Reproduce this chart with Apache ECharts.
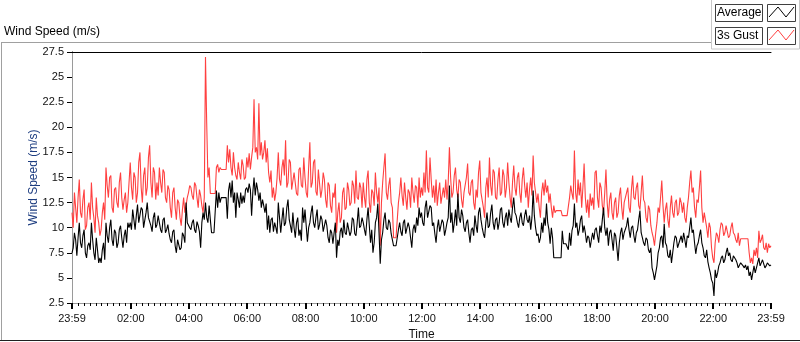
<!DOCTYPE html>
<html>
<head>
<meta charset="utf-8">
<script src="https://cdn.jsdelivr.net/npm/echarts@6/dist/echarts.min.js"></script>
<style>
  html, body { margin: 0; padding: 0; background: #ffffff; }
  #div_chart { width: 800px; height: 342px; }
</style>
</head>
<body>
<div id="div_chart"></div>
<script>
"use strict";

// samples every 2.5 minutes, starting 23:59 of the day before
const sample_step_min = 2.5;

// average wind speed (m/s), one row per hour (24 samples)
const avg_speed = [
  7.5, 8.0, 9.5, 8.8, 7.2, 9.0, 10.5, 8.5, 8.0, 9.2, 9.8, 7.5, 7.0, 8.2, 8.5, 7.8, 10.5, 8.8, 7.5, 6.8, 9.0, 7.8, 6.5, 7.0,
  6.5, 7.8, 8.5, 6.8, 10.5, 9.2, 8.5, 10.0, 10.8, 8.8, 8.2, 9.8, 9.5, 8.0, 8.5, 9.8, 10.2, 9.0, 8.0, 9.2, 9.8, 8.5, 10.5, 10.0,
  10.5, 9.8, 11.8, 10.8, 9.8, 11.2, 12.3, 10.5, 10.5, 12.0, 11.8, 10.0, 10.0, 11.5, 12.5, 11.0, 11.0, 10.2, 9.6, 11.0, 11.5, 10.0, 10.3, 11.2,
  10.5, 9.8, 9.5, 10.8, 11.0, 9.5, 9.8, 10.3, 9.4, 8.8, 8.5, 9.6, 9.8, 8.2, 7.5, 8.8, 8.8, 7.8, 8.0, 9.5, 9.2, 8.5, 12.5, 10.5,
  10.5, 10.0, 9.8, 10.5, 10.8, 9.8, 9.5, 10.6, 10.2, 9.6, 8.0, 10.5, 11.5, 10.8, 12.5, 11.0, 10.5, 12.2, 10.8, 9.5, 9.5, 9.5, 9.5, 13.7,
  12.0, 13.5, 12.5, 13.0, 13.0, 13.0, 13.0, 13.0, 10.9, 13.7, 14.5, 13.0, 14.7, 12.5, 13.5, 11.0, 13.5, 12.8, 12.0, 13.5, 12.4, 13.2, 12.5, 13.8,
  14.0, 13.5, 14.4, 13.8, 11.2, 13.5, 15.0, 13.2, 14.5, 13.8, 12.7, 13.5, 12.0, 12.8, 12.2, 11.5, 12.4, 9.8, 11.2, 9.5, 10.8, 11.0, 9.6, 10.5,
  10.0, 9.4, 12.5, 11.0, 9.5, 10.8, 12.0, 10.2, 10.5, 12.0, 12.8, 10.8, 10.2, 9.5, 11.5, 10.0, 9.0, 10.5, 11.0, 9.2, 9.8, 8.7, 12.0, 10.5,
  11.8, 10.2, 8.6, 10.0, 10.5, 11.5, 12.2, 10.5, 10.0, 11.0, 11.8, 9.8, 10.3, 11.2, 10.8, 9.6, 9.5, 10.8, 10.2, 9.0, 8.5, 9.8, 9.5, 8.4,
  9.5, 10.5, 7.0, 8.8, 8.2, 9.6, 10.0, 9.0, 10.8, 9.5, 9.3, 10.5, 10.5, 9.2, 9.6, 11.0, 10.8, 9.4, 9.2, 10.5, 12.0, 10.0, 10.2, 11.0,
  10.5, 9.8, 9.2, 10.8, 12.0, 10.2, 8.5, 9.8, 7.5, 8.5, 10.5, 11.0, 12.4, 9.5, 6.4, 8.8, 9.5, 10.8, 11.5, 10.0, 9.8, 10.8, 10.5, 9.4,
  9.5, 8.2, 8.2, 8.2, 8.2, 9.8, 10.5, 9.6, 9.2, 10.5, 10.8, 9.4, 9.5, 10.5, 10.0, 9.0, 8.0, 9.8, 10.3, 9.5, 11.0, 10.2, 12.0, 11.0,
  11.5, 10.5, 10.2, 12.0, 12.7, 11.0, 11.0, 12.2, 12.0, 10.2, 10.5, 9.4, 8.5, 10.0, 10.8, 9.6, 9.5, 10.8, 10.5, 9.2, 9.8, 10.5, 11.0, 14.2,
  10.5, 11.5, 9.5, 10.5, 11.8, 10.2, 13.4, 11.0, 10.5, 11.8, 11.2, 10.0, 9.6, 10.5, 10.8, 9.5, 8.5, 9.8, 10.0, 9.2, 11.2, 10.2, 9.5, 11.5,
  12.0, 10.8, 10.0, 9.4, 9.0, 10.5, 11.5, 10.0, 10.2, 11.5, 12.3, 10.5, 9.8, 10.8, 11.0, 9.8, 10.5, 11.8, 12.0, 10.5, 10.0, 11.0, 11.5, 10.2,
  11.8, 11.0, 10.5, 12.0, 13.0, 11.5, 11.2, 10.5, 10.0, 11.0, 11.5, 10.5, 10.2, 11.2, 11.8, 10.8, 10.5, 11.2, 9.8, 11.0, 13.7, 11.2, 10.0, 9.2,
  9.4, 8.5, 9.0, 10.5, 9.5, 11.0, 10.2, 12.4, 10.5, 9.8, 8.4, 10.0, 9.0, 7.0, 7.0, 7.0, 7.0, 7.0, 7.0, 7.0, 9.7, 8.4, 8.4, 8.4,
  8.4, 7.8, 9.5, 8.2, 9.7, 10.2, 12.4, 10.0, 10.5, 9.2, 9.8, 10.8, 11.2, 9.5, 10.2, 9.5, 8.5, 9.2, 9.0, 8.0, 8.8, 9.5, 8.8, 9.8,
  10.0, 9.2, 8.5, 10.2, 9.5, 10.8, 12.0, 10.0, 9.2, 10.0, 8.2, 9.5, 9.8, 8.8, 7.7, 9.5, 9.2, 8.0, 6.7, 8.5, 9.5, 10.0, 8.8, 9.5,
  9.5, 10.2, 11.0, 9.8, 9.0, 10.0, 10.2, 9.2, 8.5, 9.5, 9.8, 10.8, 11.7, 9.5, 9.0, 8.5, 8.2, 9.0, 8.8, 7.8, 7.5, 8.0, 6.0, 5.5,
  4.8, 5.5, 6.2, 7.5, 8.0, 9.0, 9.2, 8.0, 10.4, 8.5, 8.2, 7.2, 7.0, 7.8, 6.5, 7.5, 8.5, 9.2, 9.0, 8.0, 8.0, 8.8, 9.2, 8.5,
  9.5, 8.8, 8.0, 9.2, 9.0, 10.0, 11.0, 9.5, 9.8, 8.5, 7.4, 8.2, 8.5, 9.2, 9.8, 8.5, 8.0, 7.2, 7.0, 7.8, 6.6, 6.0, 5.5, 4.8,
  4.5, 3.2, 5.8, 5.0, 5.5, 6.2, 6.5, 7.0, 7.2, 6.5, 6.8, 7.5, 8.0, 7.2, 7.5, 6.8, 6.6, 7.2, 7.2, 6.8, 6.5, 6.0, 6.0, 6.5,
  6.4, 6.2, 6.0, 6.3, 5.8, 6.2, 5.2, 5.6, 4.8, 5.5, 6.2, 5.5, 5.5, 6.5, 7.0, 6.2, 6.5, 6.8, 6.8, 6.0, 6.2, 6.5, 6.4, 6.2,
  6.3
];

// 3 second gust (m/s), one row per hour (24 samples)
const gust_speed = [
  11.5, 10.0, 13.5, 12.0, 10.5, 13.0, 14.8, 11.5, 11.0, 12.8, 13.8, 9.8, 10.2, 12.0, 12.5, 10.8, 14.5, 12.0, 11.0, 9.5, 13.0, 11.2, 10.5, 9.2,
  9.8, 11.5, 12.5, 10.8, 16.0, 14.2, 13.0, 15.0, 15.2, 12.0, 11.5, 13.8, 14.0, 12.5, 12.0, 14.5, 15.5, 13.0, 11.8, 12.8, 13.5, 11.5, 12.5, 14.5,
  16.5, 14.0, 12.8, 15.5, 15.0, 12.5, 13.5, 16.5, 17.5, 14.0, 12.5, 15.2, 16.0, 13.2, 14.0, 17.0, 18.2, 14.5, 13.0, 16.0, 15.5, 12.8, 14.5, 13.2,
  16.0, 14.5, 13.5, 15.8, 15.5, 13.0, 12.5, 14.2, 13.8, 12.0, 11.0, 13.5, 14.0, 12.0, 10.8, 12.8, 12.5, 11.0, 10.2, 11.8, 13.0, 11.5, 11.5, 13.0,
  13.5, 14.2, 14.0, 13.2, 12.8, 14.5, 14.2, 13.0, 12.0, 13.8, 13.2, 12.2, 11.5, 13.0, 27.0, 20.4, 15.0, 16.0, 13.4, 13.4, 13.4, 13.4, 13.4, 16.0,
  16.3, 15.5, 16.0, 15.8, 15.8, 15.8, 15.8, 15.8, 18.2, 16.5, 17.8, 16.0, 15.2, 17.5, 16.0, 15.2, 14.8, 16.5, 15.5, 14.8, 16.8, 16.2, 14.8, 15.0,
  17.0, 16.0, 17.4, 15.8, 17.0, 18.0, 22.8, 17.5, 18.0, 16.8, 22.4, 17.2, 18.5, 16.8, 17.5, 18.7, 16.5, 17.9, 15.5, 14.5, 15.7, 13.0, 14.0, 12.7,
  13.5, 15.0, 17.5, 14.8, 14.2, 16.0, 16.8, 15.2, 18.7, 14.0, 14.5, 16.8, 16.5, 13.8, 13.8, 15.5, 15.5, 13.4, 13.2, 15.8, 16.0, 14.2, 14.0, 17.0,
  15.0, 13.5, 13.0, 16.0, 18.5, 14.0, 14.5, 16.5, 16.8, 13.6, 13.2, 15.8, 15.8, 13.0, 13.8, 15.5, 14.8, 12.8, 12.0, 14.5, 14.2, 12.2, 11.5, 13.5,
  13.0, 14.4, 9.5, 11.5, 12.5, 10.5, 11.0, 13.5, 14.0, 11.8, 12.0, 14.5, 13.8, 12.2, 12.5, 14.7, 14.2, 12.4, 15.7, 13.0, 12.8, 14.5, 14.0, 12.0,
  14.5, 13.0, 12.0, 14.8, 15.7, 12.5, 11.5, 13.8, 13.5, 12.2, 15.5, 13.5, 12.5, 14.0, 8.2, 12.5, 14.5, 16.0, 17.4, 13.5, 12.8, 14.2, 15.0, 12.5,
  12.0, 9.0, 9.0, 9.0, 9.0, 12.5, 13.5, 15.0, 13.2, 12.2, 14.5, 13.0, 11.8, 13.8, 13.5, 12.0, 15.0, 13.5, 12.5, 14.2, 14.0, 12.0, 15.0, 13.0,
  14.0, 13.2, 15.5, 13.5, 17.7, 14.0, 13.5, 17.0, 14.8, 13.0, 14.2, 12.5, 14.8, 12.2, 13.5, 14.5, 12.4, 12.5, 14.0, 13.0, 14.8, 12.8, 14.5, 18.0,
  15.0, 13.0, 13.5, 15.2, 16.0, 13.8, 13.0, 14.8, 14.5, 12.8, 12.0, 13.5, 13.5, 15.0, 16.4, 13.5, 13.2, 14.5, 14.8, 12.5, 11.8, 13.8, 13.0, 15.5,
  16.7, 13.5, 13.5, 12.0, 11.0, 14.0, 15.0, 13.0, 17.0, 14.2, 13.2, 15.8, 15.5, 13.0, 12.8, 14.8, 16.0, 13.2, 13.5, 15.8, 15.2, 13.0, 14.0, 16.5,
  14.5, 13.0, 12.0, 14.5, 16.2, 14.0, 13.2, 15.0, 15.5, 13.5, 12.5, 14.8, 16.0, 14.2, 13.0, 14.5, 12.0, 13.8, 15.0, 13.2, 17.2, 14.5, 13.5, 12.5,
  13.4, 12.0, 11.0, 13.5, 14.5, 13.2, 14.8, 13.5, 14.2, 12.5, 13.4, 12.0, 11.0, 12.2, 11.5, 11.7, 11.7, 11.7, 11.7, 11.7, 11.2, 11.2, 11.2, 11.2,
  11.2, 11.2, 13.0, 14.2, 13.4, 12.8, 17.7, 13.5, 12.5, 14.8, 13.2, 14.5, 12.0, 14.0, 16.4, 13.0, 11.5, 12.8, 11.0, 13.4, 12.2, 13.0, 11.8, 15.5,
  15.7, 13.0, 12.0, 14.5, 14.0, 12.2, 11.5, 13.5, 15.8, 12.5, 11.0, 12.8, 13.5, 11.5, 10.8, 12.5, 13.0, 11.0, 11.5, 13.2, 14.0, 12.0, 10.8, 12.5,
  12.5, 13.5, 14.0, 12.0, 11.5, 13.8, 15.2, 13.0, 12.8, 14.0, 14.5, 12.2, 11.8, 13.5, 15.2, 12.8, 12.5, 11.0, 10.5, 12.2, 11.8, 10.2, 9.5, 9.0,
  8.2, 9.5, 10.5, 12.0, 11.5, 13.0, 14.7, 12.2, 10.5, 11.8, 12.5, 10.8, 10.0, 12.0, 13.2, 11.5, 11.0, 12.5, 12.8, 11.2, 11.5, 13.0, 12.5, 11.5,
  12.5, 11.0, 10.5, 12.0, 13.0, 14.5, 15.7, 13.5, 14.0, 12.0, 11.0, 12.8, 12.5, 14.0, 15.7, 12.0, 10.5, 11.5, 11.5, 10.0, 9.0, 10.5, 10.0, 8.0,
  7.0, 6.5, 8.5, 9.5, 9.2, 8.5, 9.8, 10.5, 10.3, 9.2, 9.5, 10.2, 10.2, 9.0, 9.2, 10.0, 10.5, 9.5, 9.3, 8.8, 8.5, 9.5, 8.2, 8.9,
  8.9, 8.9, 8.9, 8.9, 8.9, 8.9, 7.5, 6.5, 7.0, 6.4, 7.8, 7.2, 8.0, 7.0, 9.7, 8.5, 8.8, 9.3, 8.0, 7.8, 8.5, 7.5, 8.4, 8.0,
  8.2
];

// x axis: minutes after 23:59 of the previous day
const x_label_values = [0, 121, 241, 361, 481, 601, 721, 841, 961, 1081, 1201, 1321, 1440];
const x_label_texts = ["23:59", "02:00", "04:00", "06:00", "08:00", "10:00", "12:00",
  "14:00", "16:00", "18:00", "20:00", "22:00", "23:59"];

const minor_tick_values = [];
for (let m = 1; m < 1440; m += 12) {
  if (x_label_values.indexOf(m) === -1) { minor_tick_values.push(m); }
}

function to_pairs(values) {
  return values.map((v, i) => [i * sample_step_min, v]);
}

const font = "Liberation Sans";
const chart = echarts.init(document.getElementById("div_chart"), null, { renderer: "canvas" });

function zigzag_icon(x, y, color) {
  return {
    type: "polyline",
    silent: true,
    shape: { points: [[x + 2, y + 13], [x + 11, y + 3], [x + 19, y + 13], [x + 27, y + 3]] },
    style: { stroke: color, lineWidth: 1, fill: null },
  };
}

function legend_box(x, y, w, h) {
  return {
    type: "rect",
    silent: true,
    shape: { x: x + 0.5, y: y + 0.5, width: w, height: h },
    style: { fill: "#ffffff", stroke: "#404040", lineWidth: 1 },
  };
}

chart.setOption({
  animation: false,
  backgroundColor: "#ffffff",
  title: {
    text: "Wind Speed (m/s)",
    left: 4,
    top: 26,
    padding: 0,
    textStyle: { fontFamily: font, fontSize: 12, fontWeight: "normal", color: "#000000" },
  },
  grid: { left: 72, right: 29, top: 52, bottom: 39, outerBoundsMode: "none", containLabel: false },
  xAxis: [
    {
      type: "value",
      min: 0,
      max: 1440,
      name: "Time",
      nameLocation: "middle",
      nameGap: 26,
      nameMoveOverlap: false,
      nameTextStyle: { fontFamily: font, fontSize: 12, color: "#111111" },
      splitLine: { show: false },
      axisLine: { show: true, lineStyle: { color: "#9a9a9a", width: 1 } },
      axisTick: { show: true, customValues: x_label_values, length: 6, lineStyle: { color: "#000000", width: 2 } },
      axisLabel: {
        customValues: x_label_values,
        margin: 10,
        fontFamily: font,
        fontSize: 11,
        color: "#111111",
        formatter: function (v) {
          const i = x_label_values.indexOf(v);
          return i === -1 ? "" : x_label_texts[i];
        },
      },
    },
    {
      type: "value",
      position: "top",
      min: 0,
      max: 1440,
      splitLine: { show: false },
      axisLine: { show: true, lineStyle: { color: "#000000", width: 1 } },
      axisTick: { show: false },
      axisLabel: { show: false },
    },
    {
      type: "value",
      position: "bottom",
      min: 0,
      max: 1440,
      splitLine: { show: false },
      axisLine: { show: false },
      axisTick: { show: true, customValues: minor_tick_values, length: 3, lineStyle: { color: "#000000", width: 1 } },
      axisLabel: { show: false },
    },
  ],
  yAxis: [
    {
      type: "value",
      min: 2.5,
      max: 27.5,
      interval: 2.5,
      name: "Wind Speed (m/s)",
      nameLocation: "middle",
      nameGap: 32,
      nameMoveOverlap: false,
      nameTextStyle: { fontFamily: font, fontSize: 12, color: "#1d3d80" },
      splitLine: { show: false },
      axisLine: { show: true, lineStyle: { color: "#000000", width: 1 } },
      axisTick: { show: true, length: 5, lineStyle: { color: "#000000" } },
      axisLabel: { margin: 8, fontFamily: font, fontSize: 11, color: "#111111" },
    },
    {
      type: "value",
      position: "right",
      min: 2.5,
      max: 27.5,
      splitLine: { show: false },
      axisLine: { show: true, lineStyle: { color: "#9a9a9a", width: 1 } },
      axisTick: { show: false },
      axisLabel: { show: false },
    },
  ],
  series: [
    {
      name: "3s Gust",
      type: "line",
      data: to_pairs(gust_speed),
      showSymbol: false,
      lineStyle: { color: "#ff4040", width: 1.1 },
      itemStyle: { color: "#ff4040" },
      z: 2,
    },
    {
      name: "Average",
      type: "line",
      data: to_pairs(avg_speed),
      showSymbol: false,
      lineStyle: { color: "#000000", width: 1.1 },
      itemStyle: { color: "#000000" },
      z: 3,
    },
  ],
  graphic: [
    // outer frame of the chart control
    { type: "line", silent: true, shape: { x1: 1.5, y1: 42, x2: 1.5, y2: 341 }, style: { stroke: "#a0a0a0", lineWidth: 1 } },
    { type: "line", silent: true, shape: { x1: 1, y1: 42.5, x2: 711, y2: 42.5 }, style: { stroke: "#a0a0a0", lineWidth: 1 } },
    { type: "line", silent: true, shape: { x1: 0, y1: 340.5, x2: 800, y2: 340.5 }, style: { stroke: "#202020", lineWidth: 1 } },
    { type: "rect", silent: true, shape: { x: 711.5, y: -1, width: 88, height: 50 }, style: { fill: null, stroke: "#c8c8c8", lineWidth: 1 } },
    // legend
    legend_box(715, 4, 47, 17),
    { type: "text", silent: true, style: { x: 717, y: 13, text: "Average", font: "12px " + font, fill: "#000000", verticalAlign: "middle" } },
    legend_box(767, 4, 28, 17),
    zigzag_icon(767, 4, "#000000"),
    legend_box(715, 27, 47, 17),
    { type: "text", silent: true, style: { x: 717, y: 36, text: "3s Gust", font: "12px " + font, fill: "#000000", verticalAlign: "middle" } },
    legend_box(767, 27, 28, 17),
    zigzag_icon(767, 27, "#ff4040"),
  ],
});
</script>
</body>
</html>
